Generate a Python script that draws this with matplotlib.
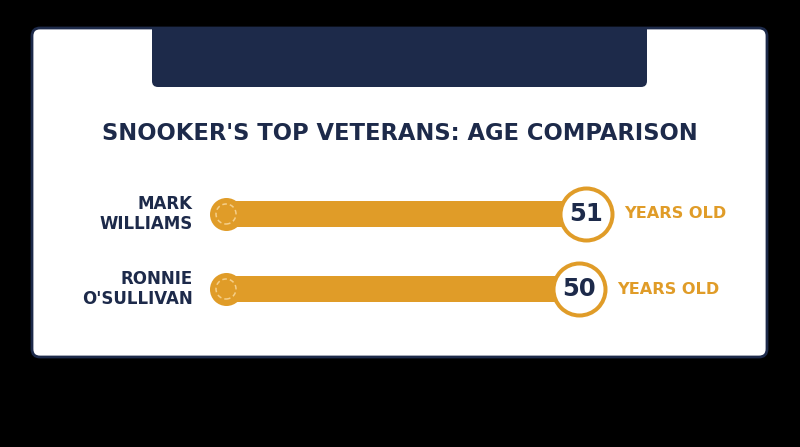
import matplotlib.pyplot as plt
from matplotlib.patches import FancyBboxPatch, Rectangle

# data
players = ['MARK\nWILLIAMS', "RONNIE\nO'SULLIVAN"]
ages = [51, 50]
title = "SNOOKER'S TOP VETERANS: AGE COMPARISON"

navy = '#1D2A4A'
orange = '#E09C28'
light = '#F5CF8A'

plt.rcParams['font.family'] = ['DejaVu Sans']

fig = plt.figure(figsize=(8, 4.47), dpi=100)
fig.patch.set_facecolor('black')

# background card (pixel coords)
bg = fig.add_axes([0, 0, 1, 1])
bg.set_xlim(0, 800)
bg.set_ylim(447, 0)
bg.axis('off')
card = FancyBboxPatch((32, 28), 735, 329, boxstyle='round,pad=0,rounding_size=8',
                      facecolor='white', edgecolor=navy, linewidth=2)
bg.add_patch(card)
hdr = FancyBboxPatch((152, 27), 495, 60, boxstyle='round,pad=0,rounding_size=6',
                     facecolor=navy, edgecolor='none')
bg.add_patch(hdr)
bg.add_patch(Rectangle((152, 27), 495, 20, facecolor=navy, edgecolor='none'))
bg.text(400, 133, title, ha='center', va='center', fontsize=16.3,
        fontweight='bold', color=navy)

# bars
ax = fig.add_axes([226/800, 1 - 326.5/447, 360/800, 150/447])
ax.set_xlim(0, max(ages))
ax.set_ylim(len(players) - 0.5, -0.5)
ax.axis('off')
ax.patch.set_alpha(0)

ys = list(range(len(players)))
ax.barh(ys, ages, height=26/75, color=orange, zorder=1)
ax.scatter([0]*len(ys), ys, s=(33*0.72)**2, color=orange, zorder=2, clip_on=False,
           linewidths=0)
ax.scatter([0]*len(ys), ys, s=(20*0.72)**2, facecolor='none', edgecolor=light,
           linewidths=1.1, linestyle=(0, (3, 2)), zorder=3, clip_on=False)
ax.scatter(ages, ys, s=(52*0.72)**2, facecolor='white', edgecolor=orange,
           linewidths=4*0.72, zorder=4, clip_on=False)

for y, name, age in zip(ys, players, ages):
    ax.text(age, y, str(age), ha='center', va='center', fontsize=17.5,
            fontweight='bold', color=navy, zorder=5)
    ax.annotate('YEARS OLD', (age, y), xytext=(38, 0), textcoords='offset pixels',
                ha='left', va='center', fontsize=11.6, fontweight='bold', color=orange)
    ax.annotate(name, (0, y), xytext=(-33, 0), textcoords='offset pixels',
                ha='right', va='center', fontsize=12, fontweight='bold',
                color=navy, linespacing=1.2)

fig.savefig('out.png', dpi=100, facecolor='black')
